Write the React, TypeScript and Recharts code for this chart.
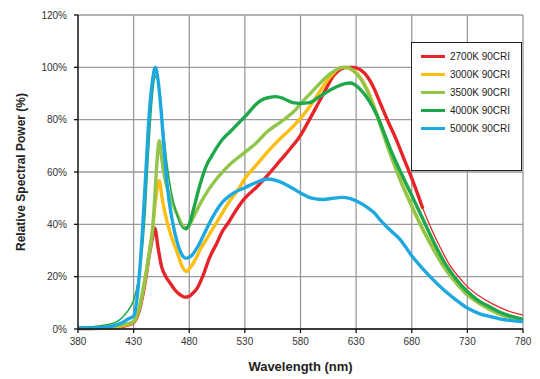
import { LineChart, Line, XAxis, YAxis, CartesianGrid, Legend } from "recharts";

// wavelength (nm), relative power (%)
const s2700: [number, number][] = [
  [380, 0.2], [400, 0.3], [410, 0.5], [420, 1], [425, 1.5], [430, 2.5], [435, 7],
  [440, 17], [444, 28], [447, 35], [449, 38.5], [452, 31], [455, 24], [459, 20],
  [463, 17.5], [467, 15], [472, 13], [476, 12.2], [480, 12.5], [484, 14], [487, 15.5],
  [492, 20], [498, 27], [505, 33], [510, 37.5], [515, 40.5], [520, 44], [530, 50],
  [540, 54], [550, 58.5], [562, 64.5], [570, 68.5], [580, 74], [588, 80], [595, 85.5],
  [602, 91], [610, 97], [617, 99.5], [623, 100], [628, 100], [634, 99], [640, 96.5],
  [646, 92], [652, 86], [659, 79], [666, 72.5], [673, 65], [681, 56.5], [690, 46],
  [699, 37], [707, 30], [714, 24.5], [722, 20], [730, 16.2], [740, 12.8], [753, 9.5],
  [766, 7], [780, 5.3],
];

const s3000: [number, number][] = [
  [380, 0.2], [400, 0.4], [410, 0.7], [420, 1.2], [425, 1.8], [430, 2.8], [435, 8],
  [440, 18.5], [444, 29], [447, 38], [450, 50], [453, 56.7], [456, 49], [460, 41],
  [465, 34], [469, 29.5], [473, 24.5], [477, 22], [481, 23.5], [486, 27], [490, 30.5],
  [495, 34], [500, 37.5], [505, 41], [510, 44.5], [515, 48], [520, 51], [525, 54],
  [530, 57.5], [540, 62.5], [550, 67.5], [560, 72], [570, 76], [580, 80.5], [590, 86],
  [600, 92.5], [608, 97], [614, 99.5], [619, 100], [624, 99.5], [630, 98], [640, 91.5],
  [650, 80.5], [660, 68.5], [670, 57], [680, 47], [690, 38], [700, 30.5], [710, 23.5],
  [720, 18], [730, 13.3], [740, 10], [750, 7.7], [760, 5.7], [770, 4.3], [780, 3.4],
];

const s3500: [number, number][] = [
  [380, 0.3], [390, 0.4], [400, 0.6], [410, 0.9], [420, 1.5], [425, 2], [430, 3],
  [435, 8], [440, 18.5], [444, 29], [447, 38], [449, 50], [451, 64], [453, 72],
  [455, 66], [457, 60], [460, 54], [465, 48], [470, 43], [474, 39.5], [477, 38.5],
  [480, 39.5], [483, 42], [490, 48], [497, 53], [505, 57.6], [516, 62.7], [530, 67.5],
  [540, 71], [550, 75.4], [560, 78.5], [568, 81], [575, 83.5], [582, 87], [590, 90.5],
  [600, 95], [610, 98.5], [618, 100], [622, 100], [628, 98.5], [635, 95], [642, 89],
  [650, 80], [658, 70], [665, 62], [672, 54.5], [680, 47], [690, 38], [700, 30],
  [710, 23], [720, 17.5], [730, 13], [740, 10], [750, 7.5], [760, 5.5], [770, 4.2],
  [780, 3.3],
];

const s4000: [number, number][] = [
  [380, 0.5], [390, 0.8], [400, 1.2], [410, 2], [415, 2.8], [420, 4.5], [425, 7],
  [430, 11], [434, 18], [437, 27], [440, 42], [443, 65], [446, 85], [449, 96],
  [451, 97], [454, 88], [457, 75], [460, 63], [464, 52], [468, 45], [472, 40],
  [476, 38], [480, 40], [484, 46], [487, 51], [491, 57], [496, 63], [500, 66],
  [505, 69.5], [510, 72.5], [517, 75.5], [525, 79], [532, 82], [538, 85], [545, 87.5],
  [552, 88.5], [558, 88.8], [565, 88], [573, 86.5], [580, 86.2], [588, 86.5],
  [596, 88.5], [604, 90.7], [612, 92.5], [620, 93.8], [625, 94], [630, 93], [635, 91],
  [642, 87], [649, 81.5], [656, 74], [663, 66.5], [670, 60], [680, 51], [690, 42],
  [700, 33], [710, 25], [720, 19], [730, 14.3], [740, 10.8], [750, 8.5], [760, 6.3],
  [770, 4.8], [780, 3.7],
];

const s5000: [number, number][] = [
  [380, 0.3], [400, 0.5], [410, 1], [420, 2.5], [425, 3.8], [430, 5], [435, 20],
  [438, 38], [441, 60], [444, 82], [447, 95], [449.5, 100], [452, 95], [455, 82],
  [458, 65], [461, 52], [465, 41], [470, 32], [474, 28], [477, 27], [482, 28],
  [487, 31], [493, 36], [500, 42], [508, 47.5], [520, 52], [530, 54], [540, 56],
  [551, 57.3], [560, 56.5], [570, 54.5], [580, 52], [590, 50], [600, 49.5], [610, 50],
  [617, 50.3], [625, 49.8], [632, 48.5], [640, 46.5], [646, 44.5], [653, 41],
  [660, 38], [670, 34], [680, 28], [690, 23], [700, 18.5], [710, 14.5], [720, 11],
  [730, 8], [740, 6], [750, 4.8], [760, 3.8], [770, 3.2], [780, 2.8],
];

const xTicks = [380, 430, 480, 530, 580, 630, 680, 730, 780];
const yTicks = [0, 20, 40, 60, 80, 100, 120];

const series = [
  { name: "2700K 90CRI", color: "#E62429", data: s2700, thinFrom: 692 },
  { name: "3000K 90CRI", color: "#FCBE12", data: s3000 },
  { name: "3500K 90CRI", color: "#92C64A", data: s3500 },
  { name: "4000K 90CRI", color: "#1FA84B", data: s4000, thinUntil: 476 },
  { name: "5000K 90CRI", color: "#1EA8E0", data: s5000 },
];

const FONT = "'Liberation Sans', Arial, sans-serif";
const THICK = 3.4;
const THIN = 1.3;

const toPts = (arr: [number, number][]) => arr.map(([nm, v]) => ({ nm, v }));

function LegendBox() {
  return (
    <div
      style={{
        width: 111,
        height: 129,
        boxSizing: "border-box",
        border: "1px solid #222",
        background: "#fff",
        paddingTop: 4,
        fontFamily: FONT,
      }}
    >
      {series.map((s) => (
        <div key={s.name} style={{ display: "flex", alignItems: "center", height: 18 }}>
          <div
            style={{
              width: 24,
              height: 3,
              background: s.color,
              marginLeft: 9,
              marginRight: 5,
            }}
          />
          <span style={{ fontSize: 10, color: "#222" }}>{s.name}</span>
        </div>
      ))}
    </div>
  );
}

export default function App() {
  const lines: JSX.Element[] = [];
  series.forEach((s) => {
    const pts = toPts(s.data);
    if (s.thinFrom) {
      // the tail of this curve is drawn with a thin stroke in the source
      lines.push(
        <Line key={s.name + "a"} data={pts.filter((p) => p.nm <= s.thinFrom!)} dataKey="v" type="monotone"
          stroke={s.color} strokeWidth={THICK} dot={false} isAnimationActive={false} />,
        <Line key={s.name + "b"} data={pts.filter((p) => p.nm >= 681)} dataKey="v" type="monotone"
          stroke={s.color} strokeWidth={THIN} dot={false} isAnimationActive={false} />
      );
    } else if (s.thinUntil) {
      lines.push(
        <Line key={s.name + "a"} data={pts.filter((p) => p.nm <= s.thinUntil!)} dataKey="v" type="monotone"
          stroke={s.color} strokeWidth={THIN + 0.3} dot={false} isAnimationActive={false} />,
        <Line key={s.name + "b"} data={pts.filter((p) => p.nm >= s.thinUntil!)} dataKey="v" type="monotone"
          stroke={s.color} strokeWidth={THICK} dot={false} isAnimationActive={false} />
      );
    } else {
      lines.push(
        <Line key={s.name} data={pts} dataKey="v" type="monotone"
          stroke={s.color} strokeWidth={THICK} dot={false} isAnimationActive={false} />
      );
    }
  });

  return (
    <div style={{ position: "absolute", left: 0, top: 0, background: "#fff" }}>
      <LineChart width={540} height={379} margin={{ top: 15, right: 17, bottom: 0, left: 0 }}>
        <CartesianGrid stroke="#9a9a9a" strokeWidth={1.3} />
        <XAxis
          dataKey="nm"
          type="number"
          domain={[380, 780]}
          ticks={xTicks}
          height={50}
          allowDuplicatedCategory={false}
          stroke="#111"
          strokeWidth={1.3}
          tickSize={4}
          tickMargin={5}
          tick={{ fill: "#333", fontSize: 10, fontFamily: FONT }}
          label={{
            value: "Wavelength (nm)",
            position: "insideBottom",
            offset: 8,
            style: { fill: "#222", fontSize: 13, fontWeight: "bold", fontFamily: FONT },
          }}
        />
        <YAxis
          type="number"
          domain={[0, 120]}
          ticks={yTicks}
          width={78}
          stroke="#111"
          strokeWidth={1.3}
          tickSize={4}
          tickMargin={7}
          tickFormatter={(v) => `${v}%`}
          tick={{ fill: "#333", fontSize: 10, fontFamily: FONT }}
          label={{
            value: "Relative Spectral Power (%)",
            angle: -90,
            position: "insideLeft",
            offset: 21,
            style: { textAnchor: "middle", fill: "#222", fontSize: 12, fontWeight: "bold", fontFamily: FONT },
          }}
        />
        <Legend
          layout="vertical"
          align="center"
          verticalAlign="middle"
          wrapperStyle={{ left: 411, top: 42, width: 111, height: 129 }}
          content={() => <LegendBox />}
        />
        {lines}
      </LineChart>
    </div>
  );
}
